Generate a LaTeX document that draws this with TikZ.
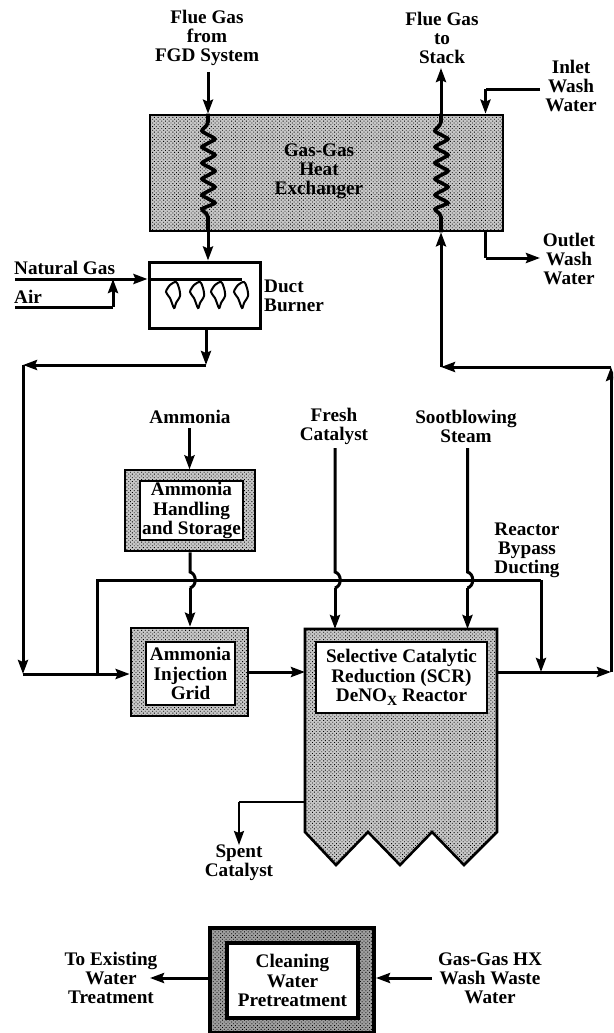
\documentclass[tikz,border=0pt]{standalone}
\usepackage{fontspec}
\setmainfont{Liberation Serif}
\usetikzlibrary{arrows.meta,patterns.meta}
\definecolor{halftone}{gray}{0.78}
\definecolor{halfdark}{gray}{0.62}
\tikzset{
  lbl/.style={font=\fontsize{19.2}{19.2}\selectfont\bfseries,align=center,inner sep=0pt},
  shell/.style={draw=black,line width=2.6pt,fill=halftone,inner sep=0pt,
    postaction={pattern={Dots[distance=2.6pt,radius=0.62pt,angle=45]},pattern color=black}},
  panel/.style={draw=black,line width=2.6pt,fill=white,inner sep=0pt,font=\fontsize{19.2}{19.2}\selectfont\bfseries,align=center},
  pipe/.style={draw=black,line width=3pt},
  flow/.style={pipe,-{Stealth[length=14pt,width=10pt,inset=2pt]}},
  coil/.style={pipe,line width=3.6pt,rounded corners=2pt},
  flame/.style={draw=black,line width=2pt,fill=white}
}
\begin{document}
\begin{tikzpicture}[x=1pt,y=-1pt]
\useasboundingbox (0,0) rectangle (613,1033);
\clip (0,0) rectangle (613,1033);

% equipment
\node[shell,minimum width=353pt,minimum height=116pt] (hx) at (326.5,173) {};
\node[lbl] (hxt) at (319,171) {Gas-Gas\\Heat\\Exchanger};
\node[draw=black,line width=3pt,fill=white,inner sep=0pt,minimum width=111pt,minimum height=66pt] (burner) at (204.5,295) {};
\node[shell,minimum width=130pt,minimum height=81pt] (hand) at (190,510.5) {};
\node[panel,minimum width=103pt,minimum height=59pt] (handt) at (191.5,510.5) {Ammonia\\Handling\\and Storage};
\node[shell,minimum width=117pt,minimum height=88pt] (grid) at (189.5,672) {};
\node[panel,minimum width=89pt,minimum height=63pt] (gridt) at (190.5,673.5) {Ammonia\\Injection\\Grid};
\coordinate (rtl) at (305,629);
\coordinate (rtr) at (497,629);
\draw[shell] (rtl) -- (rtr) -- (497,832) -- (464,865) -- (432,832) -- (400,865) -- (368,832) -- (336,865) -- (305,832) -- cycle;
\node[panel,minimum width=171pt,minimum height=71pt] (scr) at (401.5,677.5) {Selective Catalytic\\Reduction (SCR)\\DeNO{\fontsize{14}{14}\selectfont\raisebox{-4pt}{X}} Reactor};
\node[shell,draw=black,line width=4pt,fill=halfdark,minimum width=164pt,minimum height=105pt] (clean) at (292,980.5) {};
\node[panel,line width=3.4pt,minimum width=131pt,minimum height=75pt] (cleant) at (292.5,980.5) {Cleaning\\Water\\Pretreatment};

% labels
\node[lbl] (fgfrom) at (207,38) {Flue Gas\\from\\FGD System};
\node[lbl] (fgto) at (442,38) {Flue Gas\\to\\Stack};
\node[lbl] (inlet) at (571,86) {Inlet\\Wash\\Water};
\node[lbl] (outlet) at (569,259) {Outlet\\Wash\\Water};
\node[lbl,anchor=west] (ng) at (14,268) {Natural Gas};
\node[lbl,anchor=west] (air) at (14,297) {Air};
\node[lbl,align=left,anchor=west] (duct) at (264,295.5) {Duct\\Burner};
\node[lbl] (amm) at (190,417) {Ammonia};
\node[lbl] (fresh) at (334,426.5) {Fresh\\Catalyst};
\node[lbl] (soot) at (466,426.5) {Sootblowing\\Steam};
\node[lbl] (byp) at (527,550.5) {Reactor\\Bypass\\Ducting};
\node[lbl] (spent) at (239,863) {Spent\\Catalyst};
\node[lbl] (exist) at (111,978) {To Existing\\Water\\Treatment};
\node[lbl] (wash) at (490,978) {Gas-Gas HX\\Wash Waste\\Water};

% free ends and junctions
\coordinate (c1) at (208,72);
\coordinate (c2) at (441,68);
\coordinate (in1) at (540,89);
\coordinate (in2) at (485.5,89);
\coordinate (out1) at (485.5,258);
\coordinate (out2) at (540,258);
\coordinate (ng0) at (15,279);
\coordinate (ng1) at (242,279);
\coordinate (air0) at (15,307);
\coordinate (air1) at (113,307);
\coordinate (air2) at (113,279);
\coordinate (bo) at (206,365);
\coordinate (lt) at (23,365);
\coordinate (lb) at (23,674);
\coordinate (bl) at (97,580);
\coordinate (blb) at (97,674);
\coordinate (br) at (541,580);
\coordinate (brb) at (541,672);
\coordinate (re) at (611,672);
\coordinate (rt) at (611,367);
\coordinate (rc) at (441,367);

% heat exchanger coils
\draw[flow] (c1) -- (c1 |- hx.north);
\draw[coil] (c1 |- hx.north) -- (208,124) -- (201,131) -- (216,139) -- (201,147) -- (216,155) -- (201,163) -- (216,171) -- (201,179) -- (216,187) -- (201,195) -- (216,203) -- (201,209) -- (208,215) -- (208,231);
\draw[flow] (c1 |- hx.south) -- (c1 |- burner.north);
\draw[coil] (c2 |- hx.south) -- (441,215) -- (434,209) -- (449,203) -- (434,195) -- (449,187) -- (434,179) -- (449,171) -- (434,163) -- (449,155) -- (434,147) -- (449,139) -- (434,131) -- (441,124) -- (c2 |- hx.north);
\draw[flow] (c2 |- hx.north) -- (c2);

% wash water
\draw[pipe] (in1) -- (in2);
\draw[flow] (in2) -- (in2 |- hx.north);
\draw[pipe] (out1 |- hx.south) -- (out1);
\draw[flow] (out1) -- (out2);

% burner feed
\draw[flow] (ng0) -- (ng0 -| burner.west);
\draw[pipe] (ng0 -| burner.west) -- (ng1);
\draw[pipe] (air0) -- (air1);
\draw[flow] (air1) -- (air2);
\foreach \fx in {173,197,218,241}{
  \draw[flame,xshift=\fx pt,yshift=-295pt] plot[smooth cycle] coordinates {(3,-13) (-3,-10) (-7,-3) (-3,3) (1,13) (3,8) (7,1) (6,-7)};
}

% hot gas route
\draw[flow] (burner.south -| bo) -- (bo);
\draw[flow] (bo) -- (lt);
\draw[flow] (lt) -- (lb);
\draw[flow] (lb) -- (grid.west |- lb);

% bypass
\draw[pipe,line join=miter] (blb) -- (bl) -- (br);
\draw[flow] (br) -- (brb);

% ammonia and reactor feeds
\draw[flow] (189.5,428) -- (189.5,469.4);
\draw[pipe] (hand.south) -- (190,572) .. controls (197,574) and (197,586) .. (190,588);
\draw[flow] (190,588) -- (grid.north -| 190,0);
\draw[pipe] (335,448) -- (335,572) .. controls (342,574) and (342,586) .. (335,588);
\draw[flow] (335,588) -- (rtl -| 335,0);
\draw[pipe] (467.5,448) -- (467.5,572) .. controls (474.5,574) and (474.5,586) .. (467.5,588);
\draw[flow] (467.5,588) -- (rtr -| 467.5,0);

% reactor connections
\draw[flow] (grid.east) -- (grid.east -| rtl);
\draw[flow] (497,672) -- (re);
\draw[flow] (re) -- (rt);
\draw[flow] (rt) -- (rc);
\draw[flow] (rc) -- (c2 |- hx.south);
\coordinate (sp0) at (305,802);
\coordinate (sp1) at (239,802);
\coordinate (sp2) at (239,845);
\draw[pipe,line width=2.2pt] (sp0) -- (sp1);
\draw[flow,line width=2.2pt] (sp1) -- (sp2);

% cleaning water
\coordinate (ex0) at (150,978);
\coordinate (wa0) at (432,978);
\draw[flow] (clean.west |- ex0) -- (ex0);
\draw[flow] (wa0) -- (clean.east |- wa0);
\end{tikzpicture}
\end{document}
